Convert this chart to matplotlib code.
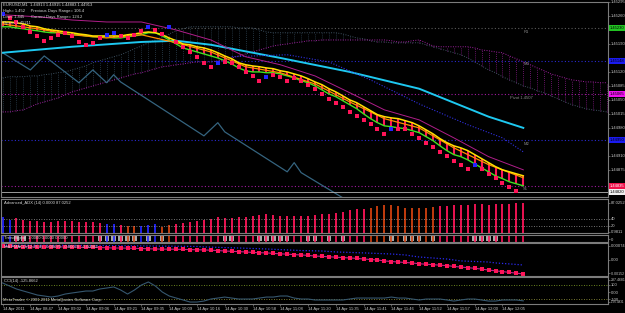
import numpy as np
import matplotlib.pyplot as plt
from matplotlib.patches import Rectangle

plt.rcParams['font.family'] = ['Liberation Sans', 'DejaVu Sans']

W, H = 625, 313
XL = (-0.3, 87.2)
FS = 3.0
TXT = '#C8C8C8'
EDGE = '#7C7C7C'
RED = '#FF1458'
ORG = '#D2410F'
BLU = '#2323FF'

# ---------------- data (prices in points, 1e-5) ----------------
time_labels = ["14 Apr 2011", "14 Apr 08:47", "14 Apr 09:02", "14 Apr 09:06", "14 Apr 09:21",
               "14 Apr 09:35", "14 Apr 10:09", "14 Apr 10:16", "14 Apr 10:30", "14 Apr 10:58",
               "14 Apr 11:08", "14 Apr 11:20", "14 Apr 11:35", "14 Apr 11:41", "14 Apr 11:46",
               "14 Apr 11:52", "14 Apr 11:57", "14 Apr 12:00", "14 Apr 12:05"]

ma_yellow = [145245, 145245, 145243, 145240, 145235, 145233, 145228, 145225, 145223, 145220,
             145218, 145215, 145213, 145210, 145210, 145210, 145210, 145210, 145213, 145215,
             145218, 145220, 145218, 145213, 145205, 145198, 145190, 145188, 145183, 145180,
             145175, 145168, 145160, 145153, 145143, 145138, 145135, 145133, 145130, 145128,
             145123, 145120, 145115, 145110, 145103, 145095, 145088, 145078, 145070, 145060,
             145050, 145043, 145033, 145023, 145013, 145008, 145005, 145003, 144998, 144993,
             144985, 144975, 144965, 144953, 144943, 144935, 144930, 144923, 144913, 144903,
             144893, 144883, 144875, 144870, 144865, 144860]
ma_green = [145233, 145233, 145230, 145228, 145225, 145223, 145220, 145218, 145218, 145215,
            145213, 145213, 145210, 145208, 145208, 145208, 145205, 145205, 145208, 145210,
            145213, 145218, 145218, 145210, 145200, 145190, 145180, 145175, 145170, 145165,
            145160, 145155, 145148, 145140, 145130, 145123, 145120, 145120, 145118, 145118,
            145115, 145110, 145105, 145098, 145093, 145085, 145075, 145065, 145058, 145048,
            145038, 145028, 145015, 145003, 144993, 144985, 144983, 144980, 144978, 144973,
            144968, 144958, 144948, 144935, 144923, 144913, 144908, 144900, 144890, 144880,
            144870, 144860, 144853, 144845, 144840, 144835]

sparse_bar = [0, 5, 10, 15, 20, 25, 30, 35, 40, 45, 50, 55, 60, 65, 70, 75]
ma_orange = [145240, 145228, 145213, 145205, 145213, 145193, 145170, 145133,
             145118, 145090, 145045, 145003, 144980, 144930, 144888, 144855]
ma_band = [145263, 145258, 145250, 145245, 145245, 145225, 145200, 145158,
           145138, 145110, 145068, 145025, 145000, 144955, 144908, 144875]

cyan_bar = [0, 10, 20, 25, 30, 40, 50, 60, 65, 70, 75]
ma_cyan = [145168, 145183, 145195, 145198, 145188, 145155, 145120, 145078, 145043, 145008, 144980]

slow_bar = [33, 41, 47, 53, 60, 67, 72, 75]
ma_slow = [145158, 145163, 145145, 145100, 145040, 144988, 144955, 144920]

zz_bar = [0, 4, 6, 11, 13, 15, 16, 17, 29, 31, 32, 41, 42, 43, 49]
zz_val = [145168, 145125, 145160, 145093, 145125, 145093, 145113, 145095,
          144960, 144993, 144970, 144870, 144893, 144868, 144805]

squares = [145265, 145255, 145245, 145233, 145220, 145210, 145198, 145205, 145213, 145218,
           145210, 145195, 145188, 145193, 145205, 145213, 145218, 145210, 145205, 145213,
           145223, 145233, 145225, 145215, 145233, 145195, 145183, 145170, 145158, 145143,
           145133, 145143, 145145, 145143, 145133, 145120, 145110, 145098, 145108, 145113,
           145108, 145098, 145105, 145098, 145088, 145078, 145065, 145053, 145043, 145033,
           145020, 145010, 145000, 144990, 144978, 144965, 144978, 144978, 144978, 144965,
           144955, 144943, 144933, 144920, 144910, 144898, 144888, 144878, 144888, 144878,
           144865, 144855, 144843, 144833, 144823]
sq_blue = [0, 15, 16, 21, 24, 31, 38, 56, 68]

span_a = [145105, 145108, 145108, 145108, 145110, 145110, 145113, 145115, 145118, 145120,
          145125, 145130, 145135, 145143, 145148, 145153, 145158, 145163, 145170, 145178,
          145185, 145193, 145200, 145208, 145215, 145223, 145228, 145233, 145233, 145233,
          145233, 145233, 145233, 145233, 145230, 145230, 145230, 145225, 145220, 145218,
          145218, 145218, 145218, 145218, 145218, 145218, 145218, 145218, 145218, 145215,
          145210, 145205, 145203, 145198, 145195, 145195, 145193, 145193, 145193, 145193,
          145193, 145188, 145183, 145178, 145173, 145168, 145163, 145155, 145145, 145135,
          145125, 145118, 145108, 145100, 145093, 145085, 145080, 145073, 145068, 145060,
          145053, 145045, 145038, 145033, 145028, 145025, 145023, 145020]
span_b = [145020, 145020, 145023, 145025, 145033, 145040, 145045, 145050, 145055, 145063,
          145070, 145075, 145080, 145085, 145090, 145095, 145100, 145105, 145110, 145115,
          145118, 145123, 145128, 145133, 145135, 145138, 145140, 145143, 145145, 145145,
          145145, 145148, 145150, 145155, 145160, 145165, 145170, 145175, 145180, 145185,
          145188, 145190, 145193, 145195, 145198, 145198, 145200, 145200, 145200, 145200,
          145200, 145200, 145200, 145200, 145200, 145200, 145198, 145195, 145195, 145198,
          145200, 145193, 145185, 145183, 145183, 145183, 145183, 145183, 145180, 145175,
          145173, 145170, 145168, 145160, 145153, 145145, 145138, 145130, 145123, 145115,
          145110, 145105, 145100, 145098, 145095, 145095, 145093, 145093]

piv_names = ['R1', 'M3', 'Pivot 1.4507', 'M2', 'S1']
piv_vals = [145230, 145148, 145065, 144950, 144835]
bid = 144820

adx = [44.5, 34.8, 42.5, 34.8, 32.9, 32.9, 30.0, 30.0, 31.9, 32.9, 32.9, 30.0, 30.0, 30.0, 27.1,
       25.1, 25.1, 23.2, 20.3, 20.3, 20.3, 23.2, 25.1, 17.4, 23.2, 25.1, 28.0, 30.0, 32.9,
       34.8, 39.6, 44.5, 42.5, 42.5, 44.5, 44.5, 47.4, 49.3, 52.2, 49.3, 47.4, 47.4, 47.4, 47.4,
       47.4, 49.3, 52.2, 54.1, 57.0, 59.0, 63.8, 66.7, 68.6, 71.5, 75.4, 78.3, 78.3, 75.4, 71.5,
       71.5, 71.5, 71.5, 73.5, 75.4, 77.3, 78.3, 78.3, 80.2, 81.2, 81.2, 80.2, 81.2, 81.2, 83.1,
       85.1, 86.0]
adx_state = ("bbmmmmmmmmmmmmmbbmoobbboo" + "mmmmmmmmmmmmmmmmmmmmmmmmmmmm"
             + "oooooooooo" + "mmmmmmmmmmmmm")

trend_box = [2, 3, 14, 15, 16, 17, 18, 19, 21, 23, 32, 33, 37, 38, 39, 40, 41, 44, 45, 47,
             49, 56, 58, 59, 60, 62, 68, 69, 70, 71]

macd_signal = [86, 86, 85, 85, 84, 83, 83, 83, 83, 83, 83, 81, 80, 80, 79, 78, 76, 76, 75, 74,
               73, 71, 70, 69, 69, 68, 67, 66, 65, 64, 62, 60, 57, 55, 53, 51, 48, 46, 45, 42,
               39, 37, 34, 32, 29, 25, 23, 20, 18, 15, 13, 10, 6, 3, 0, -6, -10, -13, -16, -19,
               -24, -27, -30, -33, -36, -41, -45, -49, -53, -58, -64, -69, -74, -79, -84, -89]
macd_bar = [0, 14, 28, 29, 34, 38, 41, 43, 46, 48, 52, 56, 58, 59, 60, 64, 66, 70, 71, 73, 75]
macd_main = [95, 92, 86, 83, 76, 70, 64, 60, 57, 51, 45, 38, 32, 25, 19, 6, -6, -13, -19, -25, -32]

cci = [129, 86, 43, 14, -14, -43, -57, -72, -57, -29, -14, 0, 14, 14, 43, 57, 72, 29, -29, 29,
       100, 143, 86, 0, -57, -86, -114, -143, -143, -129, -100, -86, -72, -86, -100, -100, -100,
       -86, -72, -72, -57, -57, -86, -100, -100, -114, -114, -114, -114, -114, -100, -86, -86,
       -86, -86, -86, -72, -86, -86, -100, -114, -100, -100, -100, -114, -129, -114, -100, -100,
       -114, -129, -129, -114, -114, -114, -126]

# ---------------- figure ----------------
fig = plt.figure(figsize=(W / 100, H / 100), dpi=100, facecolor='black')


def panel(top, bottom):
    ax = fig.add_axes([0.5 / W, 1 - bottom / H, 607.5 / W, (bottom - top) / H])
    ax.set_facecolor('black')
    ax.set_xlim(XL)
    for s in ax.spines.values():
        s.set_color(EDGE)
        s.set_linewidth(0.8)
    ax.yaxis.tick_right()
    ax.tick_params(axis='y', colors=EDGE, labelcolor=TXT, labelsize=FS, length=1.5, width=0.5, pad=0.8)
    ax.tick_params(axis='x', bottom=False, labelbottom=False)
    return ax


def ftxt(x, y, s, color='#D8D8D8'):
    fig.text(x / W, 1 - y / H, s, fontsize=FS, color=color, va='center', ha='left')


def shrink_long(ax):
    # long scale values do not fit the 17px strip at full size
    for lab in ax.get_yticklabels():
        n = len(lab.get_text())
        if n > 8:
            lab.set_fontsize(2.2)
        elif n > 7:
            lab.set_fontsize(2.5)


bars = np.arange(len(ma_yellow))

# main chart
ax = panel(2, 197)
ax.set_ylim(144807, 145295)

cb = np.arange(len(span_a))
sa = np.array(span_a)
sb = np.array(span_b)
up = sa >= sb
dot = (0, (1, 1.5))
ax.vlines(cb[up], sb[up], sa[up], colors='#2E4252', linestyles=dot, lw=0.6)
ax.vlines(cb[~up], sa[~up], sb[~up], colors='#861A86', linestyles=dot, lw=0.6)
ax.plot(cb, sa, color='#3E5262', ls=dot, lw=0.7)
ax.plot(cb, sb, color='#A020A0', ls=dot, lw=0.7)

piv_colors = ['#5A5A5A', '#2A2AD0', '#A01AA0', '#2A2AD0', '#A01AA0']
for name, v, c in zip(piv_names, piv_vals, piv_colors):
    ax.axhline(v, color=c, ls=(0, (1, 2)), lw=0.8)
    ax.annotate(name, (75 if name != piv_names[2] else 73.1, v), xytext=(0, -1.2),
                textcoords='offset points', fontsize=FS, color='#8A8A8A', va='top', ha='left')

ax.plot(zz_bar, zz_val, color='#35647F', lw=0.9)
ax.plot(cyan_bar, ma_cyan, color='#1EC8F0', lw=1.4)
ax.plot(slow_bar, ma_slow, color='#3030E0', ls=(0, (1, 1.5)), lw=0.8)
ax.plot(sparse_bar, ma_band, color='#B01E8A', lw=0.7)
ax.vlines(bars, ma_green, ma_yellow, colors=RED, lw=1.5)
ax.plot(bars, ma_green, color='#40E020', lw=1.0)
ax.plot(sparse_bar, ma_orange, color='#FF8C00', lw=0.9)
ax.plot(bars, ma_yellow, color='#FFE000', lw=1.1)
ax.axhline(bid, color='#B4B4B4', lw=0.6)

sq_x = np.arange(len(squares))
sq_y = np.array(squares)
ax.plot(sq_x, sq_y, 's', ms=3.4, mew=0, color=RED)
ax.plot(sq_x[sq_blue], sq_y[sq_blue], 's', ms=3.4, mew=0, color=BLU)

box_vals = piv_vals + [bid]
# price scale labels; the coloured level boxes cover the ones they sit on
yt = [v for v in (145295 - 35 * k for k in range(14))
      if all(abs(v - b) > 12 for b in box_vals)]
ax.set_yticks(yt)
ax.set_yticklabels([f"{v / 1e5:.5f}" for v in yt])

box_fc = ['#22C322', '#1A1AF0', '#F010F0', '#1A1AF0', '#F0104A', '#F0F0F0']
box_tc = ['black', 'black', 'black', 'black', 'white', 'black']
for v, fc, tc in zip(box_vals, box_fc, box_tc):
    ax.text(1.003, v, f"{v / 1e5:.5f}", transform=ax.get_yaxis_transform(), fontsize=FS,
            color=tc, va='center', ha='left', clip_on=False, zorder=5,
            bbox=dict(boxstyle='square,pad=0.2', fc=fc, ec='none'))

# ADX
ax2 = panel(199, 233)
ax2.set_ylim(-1, 96)
cmap = {'m': RED, 'o': ORG, 'b': BLU}
cols = [cmap[c] for c in adx_state]
ax2.vlines(bars, 0, adx, colors=cols, lw=1.3)
for lv in (40, 20):
    ax2.axhline(lv, color='#9A9A9A', ls=(0, (1, 2)), lw=0.6)
ax2.set_yticks([86, 40, 20, 2])
ax2.set_yticklabels(['87.0252', '40', '20', '0.9811'])

# trend signal
ax3 = panel(234.5, 241.5)
ax3.set_ylim(0, 1)
ax3.vlines(bars, 0, 1, colors=cols, lw=1.2)
for b in trend_box:
    ax3.add_patch(Rectangle((b - 0.32, 0.08), 0.64, 0.84, fc='#A8A8A8', ec='none'))
ax3.set_yticks([0.3])
ax3.set_yticklabels(['0'])

# MACD
ax4 = panel(243, 276)
ax4.set_ylim(-102, 108)
ax4.plot(macd_bar, macd_main, color='#2A2AF0', ls=(0, (1, 1.5)), lw=0.9)
ax4.plot(bars, macd_signal, color='#C01E8C', lw=0.8)
ax4.plot(bars, macd_signal, 's', ms=2.8, mew=0, color=RED)
ax4.set_yticks([89, 0, -83])
ax4.set_yticklabels(['0.00074', '0.00', '-0.00152'])
shrink_long(ax4)

# CCI
ax5 = panel(277, 304)
ax5.set_ylim(-171, 214)
ax5.axhline(100, color='#8DB02A', ls=(0, (1, 2)), lw=0.6)
ax5.axhline(-100, color='#A0A040', ls=(0, (1, 2)), lw=0.6)
ax5.plot(bars, cci, color='#36576F', lw=0.8)
ax5.set_yticks([172, 100, 0, -100, -140])
ax5.set_yticklabels(['287.4681', '100', '0.00', '-100', '-156.4831'])
shrink_long(ax5)
ax5.set_xticks(range(0, 4 * len(time_labels), 4))
ax5.set_xticklabels(time_labels, ha='left')
ax5.tick_params(axis='x', bottom=True, labelbottom=True, length=1.5, width=0.5, pad=1,
                colors=EDGE, labelcolor=TXT, labelsize=FS)

# texts
ftxt(3, 5, "EURUSD,M1  1.44913 1.44915 1.44883 1.44913")
ftxt(3, 11, "High= 1.452     Previous Days Range= 106.4")
ftxt(3, 17, "Low= 1.445      Current Days Range= 124.2")
ftxt(3, 23, "Open= 1.45211")
ftxt(4, 203, "Advanced_ADX (14) 0.0000 87.0252")
ftxt(4, 238, "TrendSignal  1.0000 0.0000 0.0000")
ftxt(4, 247, "MA PMACD(12,26,9)  -0.00070  -0.00070  -0.00089")
ftxt(4, 281, "CCI(14) -125.8662")
ftxt(3, 300, "MetaTrader, \u00a9 2001-2011 MetaQuotes Software Corp.")

fig.savefig('out.png', dpi=100, facecolor='black')
